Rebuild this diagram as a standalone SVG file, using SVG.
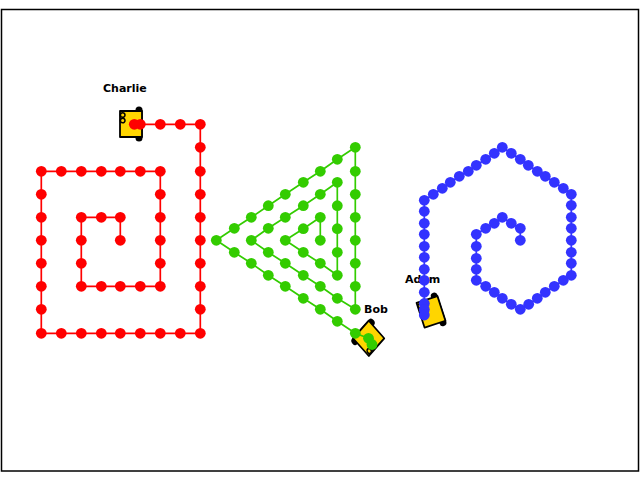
<svg xmlns="http://www.w3.org/2000/svg" width="640" height="480" viewBox="0 0 640 480">
<style>
text{font-family:"DejaVu Sans",sans-serif;font-weight:bold;font-size:11px;fill:#000}
.trail{fill:none;stroke-width:1.7;stroke-linejoin:round}
.red{stroke:#ff0000;marker:url(#dotRed)}
.green{stroke:#33cc00;marker:url(#dotGreen)}
.blue{stroke:#3333ff;marker:url(#dotBlue)}
</style>
<defs>
<marker id="dotRed" markerUnits="userSpaceOnUse" markerWidth="12" markerHeight="12" refX="6" refY="6" overflow="visible"><circle cx="6" cy="6" r="5.4" fill="#ff0000"/></marker>
<marker id="dotGreen" markerUnits="userSpaceOnUse" markerWidth="12" markerHeight="12" refX="6" refY="6" overflow="visible"><circle cx="6" cy="6" r="5.4" fill="#33cc00"/></marker>
<marker id="dotBlue" markerUnits="userSpaceOnUse" markerWidth="12" markerHeight="12" refX="6" refY="6" overflow="visible"><circle cx="6" cy="6" r="5.4" fill="#3333ff"/></marker>
<g id="robot">
<line x1="8" y1="-14" x2="8" y2="14" stroke="#000" stroke-width="7" stroke-linecap="round"/>
<rect x="-11" y="-13" width="22" height="26" fill="#ffd500" stroke="#000" stroke-width="1.8" stroke-linejoin="round"/>
<circle cx="-8.3" cy="-9" r="2.3" fill="#ffd500" stroke="#000" stroke-width="1.5"/>
<circle cx="-8.3" cy="-3.5" r="2.3" fill="#ffd500" stroke="#000" stroke-width="1.5"/>
</g>
</defs>
<rect id="frame" x="1.5" y="9.5" width="637" height="461.5" fill="#fff" stroke="#000" stroke-width="1.5"/>
<g id="charlie"><use href="#robot" transform="translate(131 124)"/><text x="103" y="92">Charlie</text></g>
<g id="bob"><use href="#robot" transform="matrix(-0.709 -0.8 0.6 -0.68 368.7 338.3)"/><text x="364" y="313">Bob</text></g>
<g id="adam"><use href="#robot" transform="translate(431 311.8) rotate(-18)"/><text x="405" y="283">Adam</text></g>
<g id="connectors">
<polyline class="trail red" points="120.3,240.3 120.3,217.3 101.3,217.3 81.3,217.3 81.3,240.3 81.3,263.3 81.3,286.3 101.3,286.3 120.3,286.3 140.3,286.3 160.3,286.3 160.3,263.3 160.3,240.3 160.3,217.3 160.3,194.3 160.3,171.3 140.3,171.3 120.3,171.3 101.3,171.3 81.3,171.3 61.3,171.3 41.3,171.3 41.3,194.3 41.3,217.3 41.3,240.3 41.3,263.3 41.3,286.3 41.3,309.3 41.3,333.3 61.3,333.3 81.3,333.3 101.3,333.3 120.3,333.3 140.3,333.3 160.3,333.3 180.3,333.3 200.3,333.3 200.3,309.3 200.3,286.3 200.3,263.3 200.3,240.3 200.3,217.3 200.3,194.3 200.3,171.3 200.3,147.3 200.3,124.3 180.3,124.3 160.3,124.3 140.3,124.3 134.3,124.3"/>
<polyline class="trail green" points="320.3,240.3 320.3,217.3 303.3,228.7 285.3,240.3 303.3,252.3 320.3,263.3 337.3,275.3 337.3,252.3 337.3,228.7 337.3,205.7 337.3,182.3 320.3,194.3 303.3,205.7 285.3,217.3 268.3,228.3 251.3,240.3 268.3,252.3 285.3,263.3 303.3,275.3 320.3,286.3 337.3,298.3 355.3,309.3 355.3,286.3 355.3,263.3 355.3,240.3 355.3,217.3 355.3,194.3 355.3,171.3 355.3,147.3 337.3,159.3 320.3,171.3 303.3,182.3 285.3,194.3 268.3,205.7 251.3,217.3 234.3,228.3 216.3,240.3 234.3,252.3 251.3,263.3 268.3,275.3 285.3,286.3 303.3,298.3 320.3,309.3 337.3,321.3 355.3,333.3 368.5,338.3 372,344.5"/>
<polyline class="trail blue" points="520.3,240.3 520.3,228.3 511.3,223.3 502.3,217.3 494.3,223.3 485.7,228.3 476.3,234.3 476.3,246.3 476.3,258.3 476.3,269.3 476.3,280.3 485.7,286.3 494.3,292.3 502.3,298.3 511.3,304.3 520.3,309.3 528.7,304.3 537.3,298.3 545.3,292.3 554.3,286.3 563.3,280.3 571.3,275.3 571.3,263.3 571.3,252.3 571.3,240.3 571.3,228.3 571.3,217.3 571.3,205.3 571.3,194.3 563.3,188.3 554.3,182.3 545.3,176.3 537.3,171.3 528.3,165.3 520.3,159.3 511.3,153.3 502.3,147.3 494.3,153.3 485.7,159.3 476.3,165.3 468.3,171.3 459.3,176.3 450.3,182.3 442.3,188.3 433.3,194.3 424.3,200.3 424.3,211.3 424.3,223.3 424.3,234.3 424.3,246.3 424.3,257.3 424.3,269.3 424.3,280.3 424.3,292.3 424.3,303.5 424.3,309.5 424.3,315"/>
</g>
</svg>
